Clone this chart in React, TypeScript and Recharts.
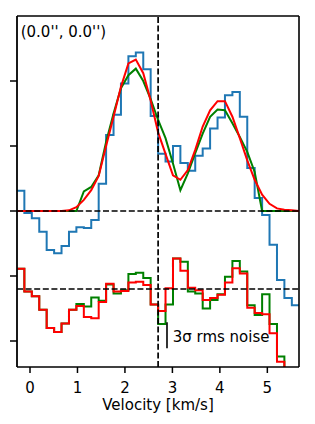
import { LineChart, Line, XAxis, YAxis, ReferenceLine, Label } from "recharts"

// channel edges in km/s (left edge of each channel, last one closes the final step)
const edges = [
    -0.275, -0.119, 0.038, 0.195, 0.351, 0.508, 0.664, 0.821, 0.977, 1.134,
    1.29, 1.447, 1.603, 1.76, 1.916, 2.073, 2.229, 2.386, 2.542, 2.699,
    2.855, 3.012, 3.168, 3.325, 3.481, 3.638, 3.794, 3.951, 4.107, 4.264,
    4.42, 4.577, 4.733, 4.89, 5.046, 5.203, 5.359, 5.516, 5.672,
]

// observed spectrum, one value per channel
const observed = [
    0.31, -0.03, -0.11, -0.32, -0.6, -0.65, -0.54, -0.32, -0.25, -0.26,
    -0.14, 0.42, 1.17, 1.48, 1.96, 2.38, 2.44, 2.18, 1.46, 0.88,
    0.76, 1.0, 0.74, 0.62, 0.85, 0.96, 1.27, 1.44, 1.78, 1.83,
    1.45, 0.66, 0.2, -0.06, -0.52, -1.06, -1.34, -1.45,
]

// model fits, sampled at the channel edges
const fitGreen = [
    0, 0, 0, 0, 0, 0, 0, 0, 0, 0.3,
    0.37, 0.55, 1.06, 1.5, 1.89, 2.09, 2.19, 2.0, 1.72, 1.4,
    1.12, 0.73, 0.32, 0.58, 0.89, 1.19, 1.45, 1.56, 1.55, 1.35,
    1.14, 0.91, 0.6, 0, 0, 0, 0, 0, 0,
]
const fitRed = [
    0, 0, 0, 0, 0, 0, 0, 0.01, 0.06, 0.17,
    0.32, 0.54, 1.0, 1.45, 1.91, 2.27, 2.33, 2.12, 1.7, 1.21,
    0.88, 0.55, 0.48, 0.63, 0.94, 1.3, 1.55, 1.69, 1.69, 1.45,
    1.12, 0.78, 0.48, 0.25, 0.11, 0.04, 0.02, 0.01, 0,
]

// residuals per channel (relative to their own baseline)
const residGreen = [
    0.31, -0.04, -0.11, -0.32, -0.6, -0.66, -0.53, -0.32, -0.23, -0.27,
    -0.13, -0.18, 0.07, -0.07, -0.02, 0.23, 0.25, 0.17, -0.24, -0.54,
    -0.24, 0.47, 0.42, -0.04, -0.07, -0.3, -0.17, -0.08, 0.19, 0.43,
    0.27, -0.25, -0.4, -0.08, -0.54, -1.04, -1.36, -1.46,
]
const residRed = [
    0.31, -0.04, -0.11, -0.32, -0.6, -0.66, -0.53, -0.32, -0.26, -0.43,
    -0.45, -0.2, 0.08, -0.04, -0.03, 0.1, 0.11, 0.06, -0.24, -0.34,
    0.01, 0.47, 0.28, 0.02, -0.02, -0.17, -0.14, -0.09, 0.1, 0.32,
    0.24, -0.29, -0.37, -0.39, -0.68, -1.12, -1.36, -1.46,
]

const xTicks = [0, 1, 2, 3, 4, 5]
const yTicks = [-2, -1, 0, 1, 2]
const residOffset = -1.2
const vCenter = 2.699
const noiseBar = { v: 2.886, top: -1.71, bottom: -2.11 }

const xDomain = [-0.274, 5.667]
const yDomain = [-2.4, 3.0]

const data = edges.map((v, i) => {
    const ch = Math.min(i, observed.length - 1)
    return {
        v,
        obs: observed[ch],
        green: fitGreen[i],
        red: fitRed[i],
        resG: residOffset + residGreen[ch],
        resR: residOffset + residRed[ch],
    }
})

const font = "DejaVu Sans"
const dash = "6 2.6"

export default function App() {
    return (
        <div style={{ position: "absolute", left: 0, top: 0 }}>
            <LineChart
                width={315}
                height={424}
                data={data}
                margin={{ top: 16, right: 16, left: 0, bottom: 0 }}
                style={{ fontFamily: font }}
            >
                <XAxis
                    type="number"
                    dataKey="v"
                    domain={xDomain}
                    allowDataOverflow
                    ticks={xTicks}
                    height={57}
                    tickSize={6}
                    tickMargin={9}
                    axisLine={{ stroke: "#000", strokeWidth: 1.6 }}
                    tickLine={{ stroke: "#000", strokeWidth: 1.5 }}
                    tick={{ fill: "#000", fontSize: 15, fontFamily: font }}
                >
                    <Label
                        value="Velocity [km/s]"
                        position="insideBottom"
                        offset={14}
                        fill="#000"
                        fontSize={15}
                        fontFamily={font}
                    />
                </XAxis>
                <YAxis
                    type="number"
                    domain={yDomain}
                    allowDataOverflow
                    ticks={yTicks}
                    width={17}
                    tickSize={7}
                    tickFormatter={() => ""}
                    axisLine={{ stroke: "#000", strokeWidth: 1.8 }}
                    tickLine={{ stroke: "#000", strokeWidth: 1.5 }}
                />

                <Line dataKey="obs" type="stepAfter" stroke="#1f77b4" strokeWidth={2} dot={false} isAnimationActive={false} />
                <Line dataKey="green" type="linear" stroke="#008000" strokeWidth={2} dot={false} isAnimationActive={false} />
                <Line dataKey="red" type="linear" stroke="#ff0000" strokeWidth={2} dot={false} isAnimationActive={false} />
                <Line dataKey="resG" type="stepAfter" stroke="#008000" strokeWidth={2} dot={false} isAnimationActive={false} />
                <Line dataKey="resR" type="stepAfter" stroke="#ff0000" strokeWidth={2} dot={false} isAnimationActive={false} />

                <ReferenceLine y={0} stroke="#000" strokeWidth={1.7} strokeDasharray={dash} />
                <ReferenceLine y={residOffset} stroke="#000" strokeWidth={1.7} strokeDasharray={dash} />
                <ReferenceLine x={vCenter} stroke="#000" strokeWidth={1.7} strokeDasharray={dash} />
                <ReferenceLine y={yDomain[1]} stroke="#000" strokeWidth={1.6} ifOverflow="visible" />
                <ReferenceLine x={xDomain[1]} stroke="#000" strokeWidth={1.6} ifOverflow="visible" />
                <ReferenceLine
                    segment={[
                        { x: noiseBar.v, y: noiseBar.top },
                        { x: noiseBar.v, y: noiseBar.bottom },
                    ]}
                    stroke="#000"
                    strokeWidth={1.6}
                />

                <text x={20.7} y={37.3} fontSize={15} fontFamily={font} fill="#000">
                    (0.0'', 0.0'')
                </text>
                <text x={172.7} y={341.7} fontSize={15} fontFamily={font} fill="#000">
                    3σ rms noise
                </text>
            </LineChart>
        </div>
    )
}
